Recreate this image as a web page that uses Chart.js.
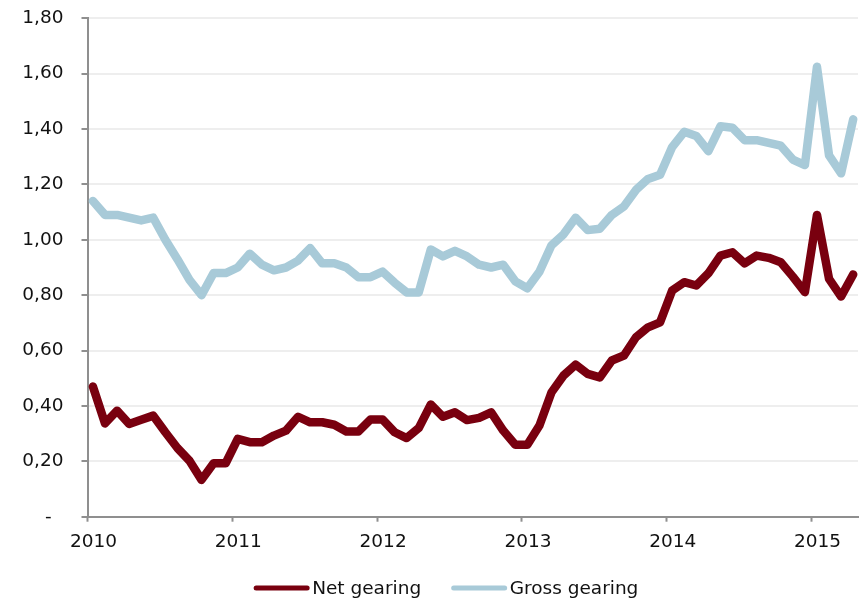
<!DOCTYPE html>
<html>
<head>
<meta charset="utf-8">
<script src="https://cdn.jsdelivr.net/npm/chart.js@4/dist/chart.umd.min.js"></script>
<style>
  html, body { margin: 0; padding: 0; background: #ffffff; }
  #wrap { width: 865px; height: 598px; }
</style>
</head>
<body>
<div id="wrap"><canvas id="c" width="865" height="598"></canvas></div>
<script>
// ---- Data (monthly, Jan 2010 – Apr 2015) ----
const seriesNames = ['Net gearing', 'Gross gearing'];
const netGearing = [
  0.47, 0.337, 0.383, 0.335, 0.35, 0.365, 0.305, 0.248, 0.202, 0.133, 0.193, 0.193,
  0.281, 0.269, 0.269, 0.293, 0.311, 0.361, 0.341, 0.341, 0.332, 0.308, 0.308, 0.351,
  0.351, 0.305, 0.284, 0.32, 0.405, 0.361, 0.377, 0.349, 0.357, 0.377, 0.311, 0.26,
  0.26, 0.329, 0.449, 0.51, 0.549, 0.516, 0.503, 0.564, 0.582, 0.648, 0.684, 0.702,
  0.817, 0.847, 0.835, 0.879, 0.943, 0.955, 0.915, 0.943, 0.935, 0.919, 0.867, 0.811,
  1.09, 0.859, 0.795, 0.875
];
const grossGearing = [
  1.14, 1.09, 1.09, 1.08, 1.07, 1.08, 1.00, 0.93, 0.855, 0.80, 0.88, 0.88,
  0.90, 0.95, 0.91, 0.89, 0.90, 0.925, 0.97, 0.915, 0.915, 0.90, 0.865, 0.865,
  0.885, 0.845, 0.81, 0.81, 0.965, 0.94, 0.96, 0.94, 0.91, 0.90, 0.91, 0.85,
  0.825, 0.885, 0.98, 1.02, 1.08, 1.035, 1.04, 1.09, 1.12, 1.18, 1.22, 1.235,
  1.335, 1.39, 1.375, 1.32, 1.41, 1.405, 1.36, 1.36, 1.35, 1.34, 1.29, 1.27,
  1.625, 1.305, 1.24, 1.435
];
const xTickLabels = ['2010', '2011', '2012', '2013', '2014', '2015'];
const yTickLabels = ['-  ', '0,20', '0,40', '0,60', '0,80', '1,00', '1,20', '1,40', '1,60', '1,80'];

// month index -> x value (points sit near mid-month on a date axis)
const MONTH_OFFSET = 0.45;
const toPoints = arr => arr.map((v, i) => ({ x: i + MONTH_OFFSET, y: v }));

const FONT = '"DejaVu Sans", Verdana, sans-serif';
const FONT_SIZE = 18.5;
const AXIS_COLOR = '#8f8f8f';

const bottomLegend = {
  id: 'bottomLegend',
  afterDraw(chart) {
    const ctx = chart.ctx;
    ctx.save();
    ctx.font = FONT_SIZE + 'px ' + FONT;
    const lineLen = 51, cap = 2.5, gap = 5, itemGap = 30;
    const items = chart.data.datasets.map(ds => ({
      label: ds.label, color: ds.borderColor, w: ctx.measureText(ds.label).width
    }));
    const total = items.reduce((s, it) => s + cap + lineLen + gap + it.w, 0) + itemGap * (items.length - 1);
    let x = 446 - total / 2;
    const lineY = 588, baseY = 593.5;
    items.forEach(it => {
      ctx.beginPath();
      ctx.strokeStyle = it.color;
      ctx.lineWidth = 5;
      ctx.lineCap = 'round';
      ctx.moveTo(x + cap, lineY);
      ctx.lineTo(x + cap + lineLen, lineY);
      ctx.stroke();
      ctx.fillStyle = '#111111';
      ctx.textAlign = 'left';
      ctx.textBaseline = 'alphabetic';
      ctx.fillText(it.label, x + cap + lineLen + gap, baseY);
      x += cap + lineLen + gap + it.w + itemGap;
    });
    ctx.restore();
  }
};

Chart.defaults.font.family = FONT;
Chart.defaults.font.size = FONT_SIZE;
Chart.defaults.color = '#111111';

new Chart(document.getElementById('c'), {
  type: 'line',
  data: {
    datasets: [
      {
        label: seriesNames[0],
        data: toPoints(netGearing),
        borderColor: '#79000f',
        backgroundColor: '#79000f',
        borderWidth: 8.5,
        borderCapStyle: 'round',
        borderJoinStyle: 'round',
        pointRadius: 0,
        tension: 0,
        fill: false
      },
      {
        label: seriesNames[1],
        data: toPoints(grossGearing),
        borderColor: '#a8cad8',
        backgroundColor: '#a8cad8',
        borderWidth: 8.5,
        borderCapStyle: 'round',
        borderJoinStyle: 'round',
        pointRadius: 0,
        tension: 0,
        fill: false
      }
    ]
  },
  options: {
    responsive: false,
    animation: false,
    devicePixelRatio: 1,
    layout: { padding: { top: 18.3, right: 7, bottom: 0, left: 0 } },
    plugins: {
      legend: { display: false },
      tooltip: { enabled: false }
    },
    scales: {
      x: {
        type: 'linear',
        min: 0,
        max: 63.85,
        afterFit(scale) { scale.height = 81.3; },
        border: { display: true, color: AXIS_COLOR, width: 2 },
        grid: { drawOnChartArea: false, drawTicks: true, tickLength: 5, tickColor: AXIS_COLOR, tickWidth: 2 },
        ticks: {
          stepSize: 12,
          includeBounds: false,
          autoSkip: false,
          maxRotation: 0,
          padding: 9,
          labelOffset: 6,
          callback: (v, i) => xTickLabels[i]
        }
      },
      y: {
        min: 0,
        max: 1.8,
        afterFit(scale) {
          scale.width = 87.5;
          scale.paddingTop = 0;
          scale.paddingBottom = 0;
        },
        border: { display: true, color: AXIS_COLOR, width: 2 },
        grid: { color: '#eeeeee', lineWidth: 2, drawTicks: true, tickLength: 6, tickColor: AXIS_COLOR, tickWidth: 2 },
        ticks: {
          stepSize: 0.2,
          padding: 18,
          callback: (v, i) => yTickLabels[i]
        }
      }
    }
  },
  plugins: [bottomLegend]
});
</script>
</body>
</html>
